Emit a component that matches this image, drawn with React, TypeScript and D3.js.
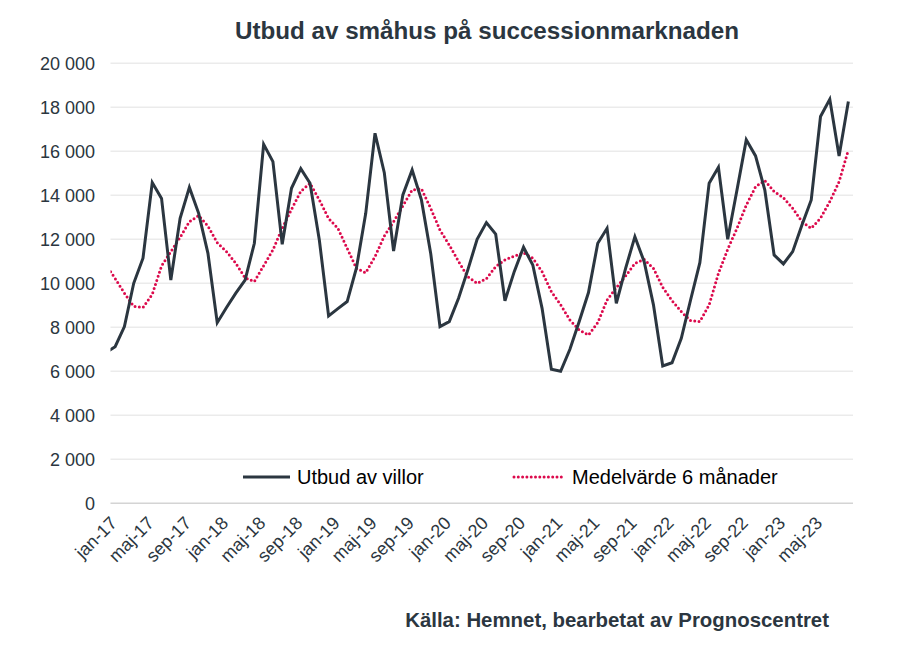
import React from 'react';
import * as d3 from 'd3';

// månadsdata, dec-16 ligger utanför plotytan och klipps bort
const monthNames = ['jan', 'feb', 'mar', 'apr', 'maj', 'jun', 'jul', 'aug', 'sep', 'okt', 'nov', 'dec'];
const years = [17, 18, 19, 20, 21, 22, 23];

const utbud = [
  6850,
  7120, 8030, 10000, 11140, 14580, 13860, 10150, 12950, 14360, 13180, 11360, 8210,
  8900, 9550, 10150, 11820, 16320, 15530, 11770, 14320, 15210, 14550, 11970, 8520,
  8850, 9170, 10700, 13180, 16820, 15030, 11470, 14020, 15150, 13790, 11360, 8030,
  8260, 9320, 10610, 12000, 12760, 12240, 9210, 10530, 11640, 10830, 8860, 6090,
  6000, 7000, 8260, 9580, 11820, 12500, 9090, 10680, 12120, 10980, 9020, 6240,
  6390, 7500, 9240, 10940, 14550, 15270, 12000, 14240, 16520, 15790, 14240, 11290,
  10880, 11440, 12650, 13790, 17580, 18360, 15790, 18260,
];

const medel = [
  10850,
  10220, 9550, 8950, 8900, 9500, 10790, 11440, 12090, 12800, 13080, 12600, 11850,
  11440, 10910, 10250, 10080, 10800, 11520, 12500, 13360, 14180, 14550, 13790, 12950,
  12500, 11590, 10680, 10480, 11210, 12150, 12800, 13520, 14240, 14300, 13410, 12420,
  11740, 10990, 10300, 10000, 10210, 10760, 11060, 11240, 11390, 11140, 10530, 9620,
  9020, 8330, 7880, 7650, 8210, 9240, 9800, 10330, 10910, 11090, 10680, 9820,
  9210, 8710, 8300, 8260, 9020, 10450, 11550, 12500, 13550, 14390, 14670, 14170,
  13890, 13410, 12800, 12500, 12960, 13710, 14620, 16060,
];

const yTicks = [0, 2000, 4000, 6000, 8000, 10000, 12000, 14000, 16000, 18000, 20000];

const months = years.flatMap(y => monthNames.map(m => `${m}-${y}`)).slice(0, 80);

const W = 900;
const H = 651;
const plot = { left: 110.5, right: 853, top: 63.3, bottom: 503.3 };
const dark = '#2b3640';
const red = '#dc0a4c';
const font = 'Liberation Sans, Arial, sans-serif';

export default function App() {
  const x = d3.scaleLinear().domain([-0.5, months.length - 0.5]).range([plot.left, plot.right]);
  const y = d3.scaleLinear().domain([0, 20000]).range([plot.bottom, plot.top]);

  // index -1 = dec-16
  const line = d3.line<number>()
    .x((_, i) => x(i - 1))
    .y(d => y(d));

  const fmt = (v: number) => d3.format(',')(v).replace(/,/g, ' ');

  return (
    <svg width={W} height={H} style={{ position: 'absolute', left: 0, top: 0, background: '#fff' }} fontFamily={font}>
      <defs>
        <clipPath id="plotClip">
          <rect x={plot.left} y={0} width={plot.right - plot.left} height={H} />
        </clipPath>
      </defs>

      <text x={487} y={39} textAnchor="middle" fontSize={24.2} fontWeight="bold" fill={dark}>
        Utbud av småhus på successionmarknaden
      </text>

      {yTicks.map(t => (
        <g key={t}>
          <line
            x1={plot.left} x2={plot.right} y1={y(t)} y2={y(t)}
            stroke={t === 0 ? '#d4d4d4' : '#ebebeb'} strokeWidth={1.5}
          />
          <text x={95} y={y(t)} dy="0.35em" textAnchor="end" fontSize={18} fill={dark}>
            {fmt(t)}
          </text>
        </g>
      ))}

      {months.map((m, i) => i % 4 === 0 && (
        <text
          key={m}
          transform={`translate(${x(i) - 6},${plot.bottom + 12}) rotate(-45)`}
          textAnchor="end"
          dy="0.7em"
          fontSize={18}
          fill={dark}
        >
          {m}
        </text>
      ))}

      <g clipPath="url(#plotClip)">
        <path d={line(medel) || ''} fill="none" stroke={red} strokeWidth={3}
          strokeDasharray="0 4.3" strokeLinecap="round" />
        <path d={line(utbud) || ''} fill="none" stroke={dark} strokeWidth={3}
          strokeLinejoin="miter" />
      </g>

      {/* legend */}
      <line x1={243} x2={290} y1={477} y2={477} stroke={dark} strokeWidth={3} />
      <text x={297} y={477} dy="0.35em" fontSize={20} fill="#000">Utbud av villor</text>
      <line x1={514} x2={564} y1={477} y2={477} stroke={red} strokeWidth={3}
        strokeDasharray="0 4.3" strokeLinecap="round" />
      <text x={572} y={477} dy="0.35em" fontSize={20} fill="#000">Medelvärde 6 månader</text>

      <text x={829} y={627} textAnchor="end" fontSize={20.4} fontWeight="bold" fill={dark}>
        Källa: Hemnet, bearbetat av Prognoscentret
      </text>
    </svg>
  );
}
